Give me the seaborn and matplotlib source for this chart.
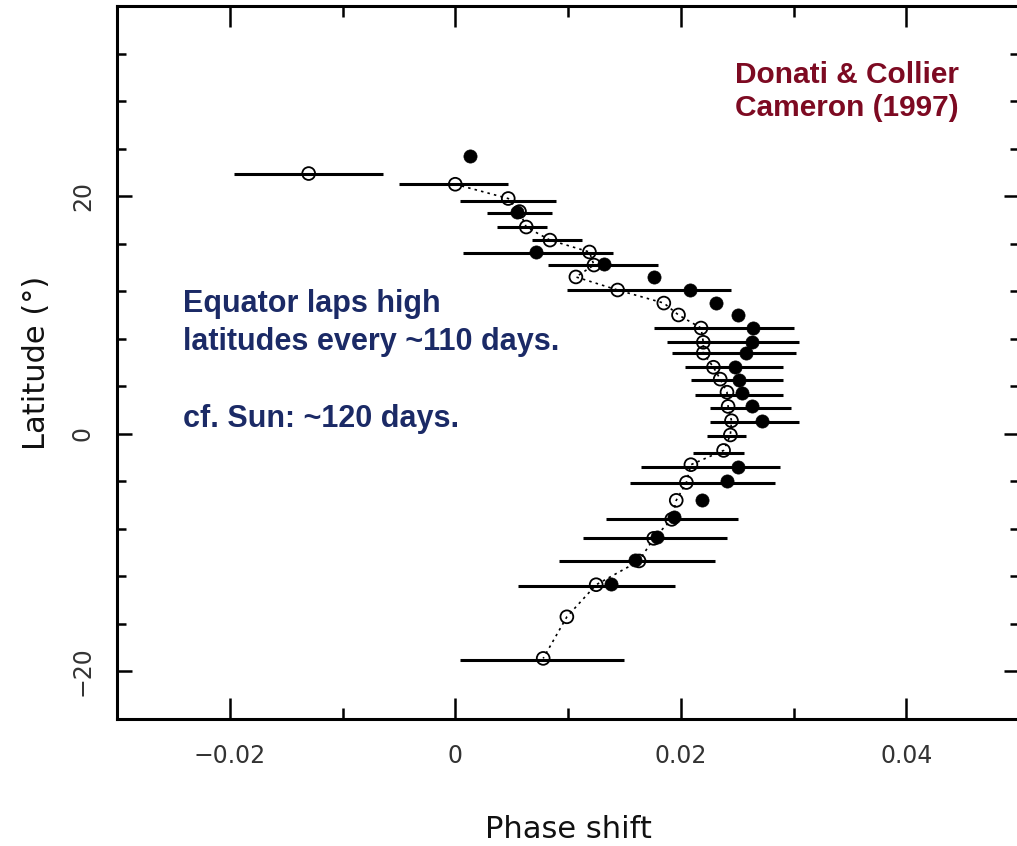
import matplotlib
matplotlib.use("Agg")
import matplotlib.pyplot as plt
import seaborn as sns
import pandas as pd
from matplotlib.ticker import MultipleLocator, FixedLocator, FixedFormatter

# ---------------- data ----------------
open_lat = [21.9, 21.0, 19.8, 18.7, 17.4, 16.3, 15.3, 14.2, 13.2, 12.1, 11.0, 10.0,
            8.9, 7.7, 6.8, 5.6, 4.6, 3.5, 2.3, 1.1, -0.1, -1.4, -2.6, -4.1, -5.6,
            -7.2, -8.8, -10.7, -12.7, -15.4, -18.9]
open_phase = [-0.0130, 0.0000, 0.0047, 0.0057, 0.0063, 0.0084, 0.0119, 0.0123, 0.0107,
              0.0144, 0.0185, 0.0198, 0.0218, 0.0220, 0.0220, 0.0229, 0.0235, 0.0241,
              0.0242, 0.0245, 0.0244, 0.0238, 0.0209, 0.0205, 0.0196, 0.0192, 0.0176,
              0.0163, 0.0125, 0.0099, 0.0078]

filled_lat = [23.4, 18.7, 15.3, 14.3, 13.2, 12.1, 11.0, 10.0, 8.9, 7.7, 6.8, 5.6,
              4.5, 3.4, 2.3, 1.1, -2.8, -4.0, -5.6, -7.0, -8.7, -10.6, -12.6]
filled_phase = [0.0013, 0.0055, 0.0072, 0.0132, 0.0176, 0.0208, 0.0231, 0.0251, 0.0264,
                0.0263, 0.0258, 0.0248, 0.0252, 0.0254, 0.0263, 0.0272, 0.0251, 0.0241,
                0.0219, 0.0194, 0.0179, 0.0159, 0.0138]

bar_lat = [21.9, 21.0, 19.6, 18.6, 17.4, 16.3, 15.2, 14.2, 12.1, 8.9, 7.7, 6.8, 5.6,
           4.5, 3.3, 2.2, 1.0, -0.2, -1.6, -2.8, -4.1, -7.2, -8.8, -10.7, -12.8, -19.0]
bar_lo = [-0.0196, -0.0050, 0.0004, 0.0028, 0.0037, 0.0068, 0.0007, 0.0082, 0.0099,
          0.0176, 0.0188, 0.0192, 0.0204, 0.0209, 0.0213, 0.0226, 0.0226, 0.0223,
          0.0211, 0.0165, 0.0155, 0.0134, 0.0113, 0.0092, 0.0056, 0.0004]
bar_hi = [-0.0064, 0.0047, 0.0089, 0.0086, 0.0081, 0.0112, 0.0140, 0.0180, 0.0245,
          0.0300, 0.0305, 0.0302, 0.0291, 0.0291, 0.0291, 0.0298, 0.0305, 0.0258,
          0.0256, 0.0288, 0.0284, 0.0251, 0.0241, 0.0230, 0.0195, 0.0150]

x_ticks = [-0.02, 0.0, 0.02, 0.04]
x_ticklabels = ["\u22120.02", "0", "0.02", "0.04"]
y_ticks = [-20, 0, 20]
y_ticklabels = ["\u221220", "0", "20"]

xlabel = "Phase shift"
ylabel = "Latitude (°)"
note_ref = "Donati & Collier\nCameron (1997)"
note_lap = "Equator laps high\nlatitudes every ~110 days.\n\ncf. Sun: ~120 days."

# ---------------- figure ----------------
sns.set_style("ticks")
plt.rcParams["font.family"] = ["DejaVu Sans"]

W, H = 1017, 846
fig = plt.figure(figsize=(W / 100, H / 100), dpi=100)
ax = fig.add_axes([117 / W, 1 - 719 / H, (1019 - 117) / W, (719 - 6) / H])

df_open = pd.DataFrame({"phase": open_phase, "lat": open_lat})
df_fill = pd.DataFrame({"phase": filled_phase, "lat": filled_lat})
df_curve = df_open.iloc[1:].reset_index(drop=True)

ax.hlines(bar_lat, bar_lo, bar_hi, colors="black", linewidth=2.2, zorder=2)

sns.lineplot(data=df_curve, x="phase", y="lat", sort=False, estimator=None,
             color="black", linewidth=1.2, linestyle=(0, (1.5, 2.5)), ax=ax, zorder=3)
sns.scatterplot(data=df_open, x="phase", y="lat", marker="o", s=85,
                facecolors="none", edgecolor="black", linewidth=1.3, ax=ax, zorder=4)
sns.scatterplot(data=df_fill, x="phase", y="lat", marker="o", s=90,
                color="black", edgecolor="black", linewidth=0.5, ax=ax, zorder=5)

ax.set_xlim(-0.03, 0.05)
ax.set_ylim(-24, 36)

ax.xaxis.set_major_locator(FixedLocator(x_ticks))
ax.xaxis.set_major_formatter(FixedFormatter(x_ticklabels))
ax.xaxis.set_minor_locator(MultipleLocator(0.01))
ax.yaxis.set_major_locator(FixedLocator(y_ticks))
ax.yaxis.set_major_formatter(FixedFormatter(y_ticklabels))
ax.yaxis.set_minor_locator(MultipleLocator(4))

for s in ax.spines.values():
    s.set_linewidth(2.2)
    s.set_color("black")
    s.set_visible(True)

ax.tick_params(axis="both", which="both", direction="in", top=True, right=True,
               color="black", width=1.8)
ax.tick_params(axis="x", which="major", length=15, pad=18, labelsize=17,
               labelcolor="#333333")
ax.tick_params(axis="x", which="minor", length=8)
ax.tick_params(axis="y", which="major", length=11, pad=16, labelsize=17,
               labelcolor="#333333", labelrotation=90)
ax.tick_params(axis="y", which="minor", length=6.5)
for lab in ax.get_yticklabels():
    lab.set_va("center")

ax.set_xlabel(xlabel, fontsize=22, color="#111111", labelpad=34)
ax.set_ylabel(ylabel, fontsize=22, color="#111111", labelpad=14)

fig.text(735 / W, 1 - 61 / H, note_ref, ha="left", va="top",
         fontsize=21.5, fontweight="bold", color="#7d0a22",
         family=["Liberation Sans", "DejaVu Sans"], linespacing=1.23)
fig.text(183 / W, 1 - 289 / H, note_lap, ha="left", va="top",
         fontsize=22, fontweight="bold", color="#1b2a66",
         family=["Liberation Sans", "DejaVu Sans"], linespacing=1.36)

fig.savefig("out.png", dpi=100)
